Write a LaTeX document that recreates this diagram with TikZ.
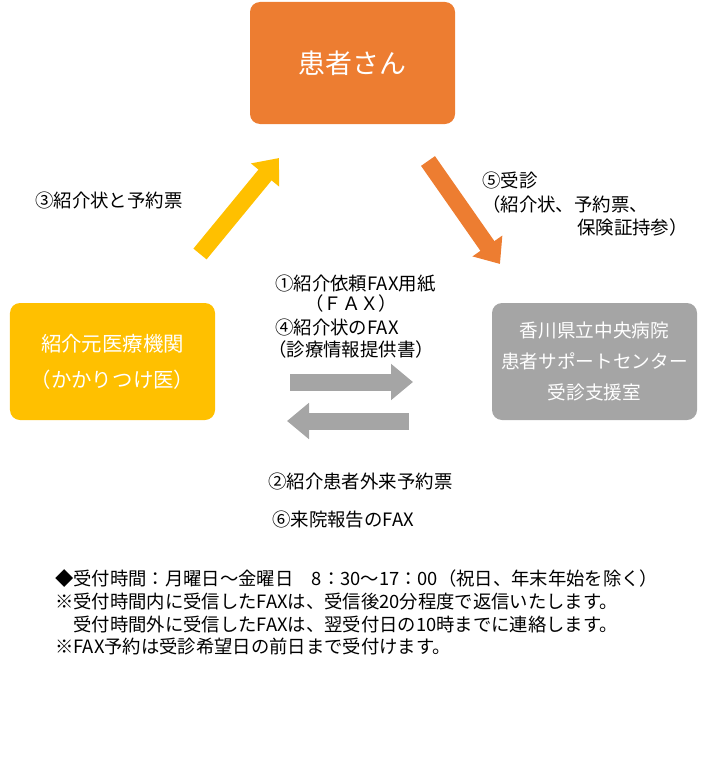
\documentclass[tikz,border=0pt]{standalone}
\usepackage{fontspec}
\setmainfont{Noto Sans CJK JP}
\usetikzlibrary{positioning,arrows.meta}
\definecolor{patientorange}{HTML}{ED7D31}
\definecolor{clinicyellow}{HTML}{FFC000}
\definecolor{centergray}{HTML}{A5A5A5}

\begin{document}
\begin{tikzpicture}[
		x=1bp, y=-1bp,
		ar/.style={line width=17bp, -{Triangle[width=35bp,length=22bp]}},
		orgbox/.style={rounded corners=10bp, minimum width=205bp, minimum height=117bp, inner sep=0pt, text=white, align=center},
		lbl/.style={anchor=west, inner sep=0pt, font=\fontsize{18.5}{22}\selectfont},
		note/.style={lbl, font=\fontsize{18.4}{22}\selectfont}
	]
		\useasboundingbox (0,0) rectangle (714,757);
		\node[orgbox, fill=patientorange, minimum height=122bp, font=\fontsize{27}{30}\selectfont] (patient) at (352.5,63) {患者さん};
		\node[orgbox, fill=clinicyellow, font=\fontsize{20.5}{36}\selectfont] (clinic) at (112.5,361.5) {紹介元医療機関\\（かかりつけ医）};
		\node[orgbox, fill=centergray, font=\fontsize{18.7}{31}\selectfont] (center) at (594.5,361.5) {香川県立中央病院\\患者サポートセンター\\受診支援室};
		\coordinate (ytail) at (200,254);
		\coordinate (yhead) at (279,158);
		\coordinate (otail) at (428,161);
		\coordinate (ohead) at (500,264);
		\coordinate (rtail) at (290,382);
		\coordinate (rhead) at (413,382);
		\coordinate (ltail) at (409,421);
		\coordinate (lhead) at (287,421);
		\draw[ar, draw=clinicyellow, fill=clinicyellow] (ytail) -- (yhead);
		\draw[ar, draw=patientorange, fill=patientorange] (otail) -- (ohead);
		\draw[ar, draw=centergray, fill=centergray] (rtail) -- (rhead);
		\draw[ar, draw=centergray, fill=centergray] (ltail) -- (lhead);
		\node[lbl] (step3) at (35,200) {③紹介状と予約票};
		\node[lbl] (step5) at (482,180) {⑤受診};
		\node[lbl] (step5a) at (482,204) {（紹介状、予約票、};
		\node[lbl] (step5b) at (577,227) {保険証持参）};
		\node[lbl] (step1) at (275,284) {①紹介依頼FAX用紙};
		\node[lbl] (step1a) at (305,303) {（ＦＡＸ）};
		\node[lbl] (step4) at (275,327) {④紹介状のFAX};
		\node[lbl] (step4a) at (268,349) {（診療情報提供書）};
		\node[lbl] (step2) at (268,481) {②紹介患者外来予約票};
		\node[lbl] (step6) at (272,520) {⑥来院報告のFAX};
		\node[note] (note1) at (55,579) {◆受付時間：月曜日～金曜日　8：30～17：00（祝日、年末年始を除く）};
		\node[note] (note2) at (55,602) {※受付時間内に受信したFAXは、受信後20分程度で返信いたします。};
		\node[note] (note3) at (55,625) {　受付時間外に受信したFAXは、翌受付日の10時までに連絡します。};
		\node[note] (note4) at (55,646) {※FAX予約は受診希望日の前日まで受付けます。};
	\end{tikzpicture}
\end{document}
